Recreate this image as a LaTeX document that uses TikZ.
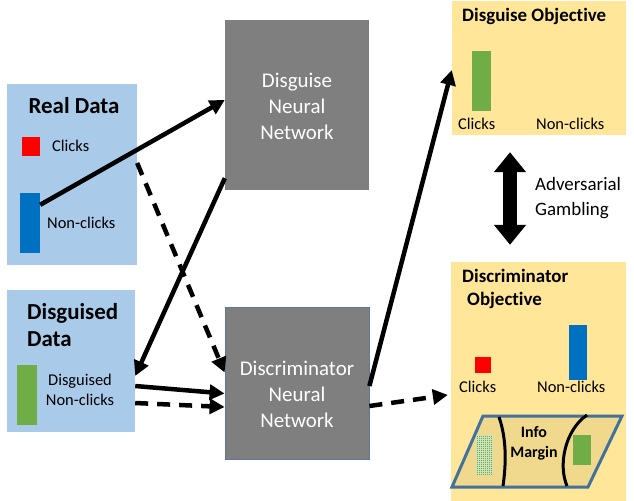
\documentclass[tikz,border=0pt]{standalone}
\usepackage{fontspec}
\setmainfont{Carlito}[Ligatures=NoCommon]
\usetikzlibrary{arrows.meta}
\definecolor{datablue}{HTML}{A9CBE9}
\definecolor{netgray}{HTML}{7F7F7F}
\definecolor{netedge}{HTML}{5B7A99}
\definecolor{objyellow}{HTML}{FFE699}
\definecolor{clickred}{HTML}{FF0000}
\definecolor{nonblue}{HTML}{0070C0}
\definecolor{fakegreen}{HTML}{70AD47}
\definecolor{marginfill}{HTML}{F0D98C}
\definecolor{marginedge}{HTML}{41719C}
\tikzstyle{databox} = [rectangle, fill=datablue, inner sep=0pt]
\tikzstyle{netbox} = [rectangle, fill=netgray, inner sep=0pt]
\tikzstyle{objbox} = [rectangle, fill=objyellow, inner sep=0pt]
\tikzstyle{bar} = [rectangle, inner sep=0pt]
\tikzstyle{nettext} = [inner sep=0pt, text=white, align=center, font=\fontsize{21}{26}\selectfont]
\tikzstyle{bigtitle} = [inner sep=0pt, align=left, font=\fontsize{23}{28}\selectfont\bfseries]
\tikzstyle{objtitle} = [inner sep=0pt, align=left, font=\fontsize{19}{23}\selectfont\bfseries]
\tikzstyle{label} = [inner sep=0pt, align=center, font=\fontsize{16.5}{20}\selectfont]
\tikzstyle{arrow} = [line width=4.5bp, -{Triangle[length=15bp,width=15bp]}]
\tikzstyle{dasharrow} = [arrow, dash pattern=on 13bp off 9bp]
\tikzstyle{gamble} = [line width=14bp, {Triangle[length=20bp,width=31bp]}-{Triangle[length=20bp,width=31bp]}]

\begin{document}
\begin{tikzpicture}[x=1bp, y=-1bp]
	            \useasboundingbox (0,0) rectangle (634,501);

	            \node [databox, minimum width=130bp, minimum height=181bp] at (72,174.5) (real) {};
	            \node [bigtitle] at (74,106) (realtitle) {Real Data};
	            \node [bar, fill=clickred, minimum width=18bp, minimum height=19bp] at (31,147) (realclick) {};
	            \node [label, anchor=west] at (52,146) (realclicktext) {Clicks};
	            \node [bar, fill=nonblue, minimum width=20bp, minimum height=60bp] at (30,223) (realnon) {};
	            \node [label, anchor=west] at (47,223) (realnontext) {Non-clicks};

	            \node [databox, minimum width=128bp, minimum height=142bp] at (71,361) (fake) {};
	            \node [bigtitle, anchor=west] at (27,325) (faketitle) {Disguised\\Data};
	            \node [bar, fill=fakegreen, minimum width=20bp, minimum height=60bp] at (27,395) (fakenon) {};
	            \node [label] at (80,390) (fakenontext) {Disguised\\Non-clicks};

	            \node [netbox, minimum width=144bp, minimum height=170bp] at (297,105) (disguise) {};
	            \node [nettext] at (297,106) (disguisetext) {Disguise\\Neural\\Network};
	            \node [netbox, draw=netedge, line width=0.8bp, minimum width=144bp, minimum height=152bp] at (297,383) (discrim) {};
	            \node [nettext] at (297,394) (discrimtext) {Discriminator\\Neural\\Network};

	            \node [objbox, minimum width=174bp, minimum height=134bp] at (539,68) (disobj) {};
	            \node [objtitle, anchor=west] at (462,16) (disobjtitle) {Disguise Objective};
	            \node [bar, fill=fakegreen, minimum width=19bp, minimum height=60bp] at (481.5,81) (disobjbar) {};
	            \node [label, anchor=west] at (458,124) (disobjclick) {Clicks};
	            \node [label, anchor=west] at (536,124) (disobjnon) {Non-clicks};

	            \node [objbox, minimum width=175bp, minimum height=239bp] at (538.5,381.5) (criobj) {};
	            \node [objtitle, anchor=west] at (462,288.5) (criobjtitle) {Discriminator\\\hspace{5bp}Objective};
	            \node [bar, fill=clickred, minimum width=16bp, minimum height=16bp] at (483,365) (criobjred) {};
	            \node [label, anchor=west] at (459,387) (criobjclick) {Clicks};
	            \node [bar, fill=nonblue, minimum width=18bp, minimum height=55bp] at (578,352.5) (criobjblue) {};
	            \node [label, anchor=west] at (537,387) (criobjnon) {Non-clicks};

	            \draw [line width=3bp, draw=marginedge, fill=marginfill] (452,487) -- (483,416) -- (622,416) -- (588,487) -- cycle;
	            \node [bar, fill=fakegreen!35, minimum width=17bp, minimum height=40bp] at (484.5,455) (marginfake) {};
	            \foreach \x in {477,479,...,492}
	                \draw [fakegreen, line width=0.9bp, dash pattern=on 1.2bp off 0.8bp] (\x,435.5) -- (\x,474.5);
	            \node [bar, fill=fakegreen, minimum width=18bp, minimum height=30bp] at (582,450) (margingreen) {};
	            \draw [line width=3bp] (499,417) .. controls (507,440) and (506,465) .. (503,486);
	            \draw [line width=3bp] (587,415) .. controls (565,430) and (558,465) .. (567,486);
	            \node [inner sep=0pt, align=center, font=\fontsize{16}{20}\selectfont\bfseries] at (534,443) (margintext) {Info\\Margin};

	            \node [label, align=left, anchor=west, font=\fontsize{19}{25}\selectfont] at (535,198) (gambletext) {Adversarial\\Gambling};

	            \draw [arrow] ([yshift=-12bp]realnon.north east) -- ([yshift=5bp]disguise.west);
	            \draw [dasharrow] ([yshift=11.5bp]real.east) -- ([yshift=10.5bp]discrim.west);
	            \draw [arrow] ([yshift=12bp]disguise.south west) -- ([yshift=-15bp]fake.east);
	            \draw [arrow] ([yshift=-25bp]fake.east) -- ([yshift=-10.5bp]discrim.west);
	            \draw [dasharrow] ([yshift=-42bp]fake.east) -- ([yshift=-24bp]discrim.west);
	            \draw [arrow] ([yshift=-3bp]discrim.east) -- ([yshift=-2bp]disobj.west);
	            \draw [dasharrow, shorten >=3bp] ([yshift=-23bp]discrim.east) -- ([yshift=-13bp]criobj.west);
	            \draw [gamble, shorten <=17bp, shorten >=17bp] ([xshift=-29bp]disobj.south) -- ([xshift=-28.5bp]criobj.north);
\end{tikzpicture}
\end{document}
